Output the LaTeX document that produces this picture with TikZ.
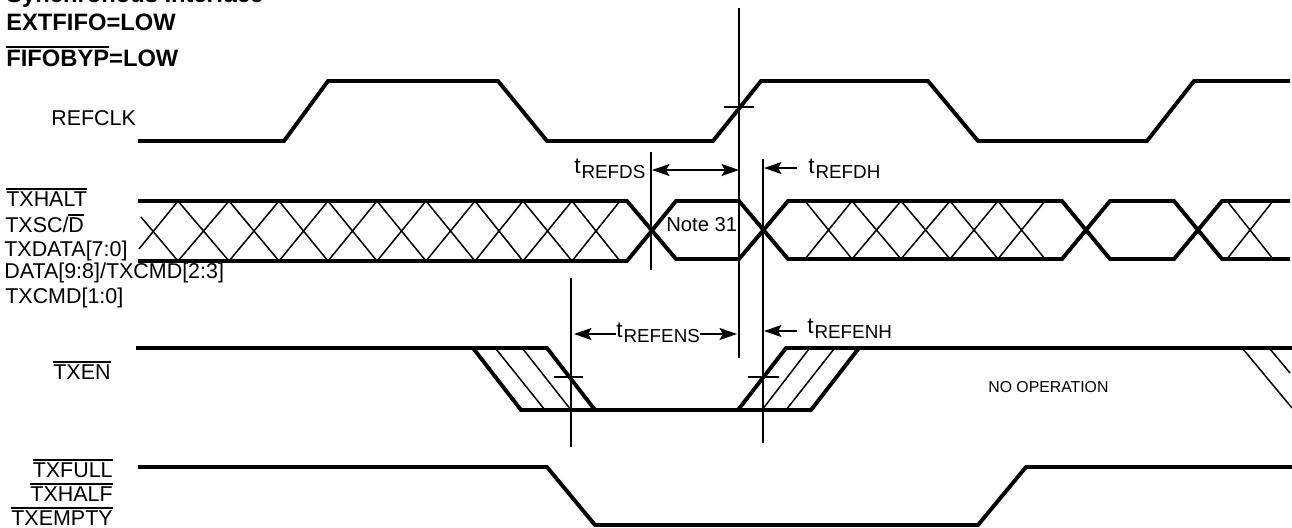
\documentclass[tikz,border=0pt]{standalone}
\usepackage{fontspec}
\setmainfont{Liberation Sans}
\usetikzlibrary{arrows.meta}
\newcommand{\ovl}[1]{\leavevmode\vbox{\hrule height 0.28mm \kern 0.32mm \hbox{#1}}}
\newcommand{\tsub}[1]{{\fontsize{12.8}{14}\selectfont t}\kern 0.2mm\raisebox{-1mm}{\fontsize{10.7}{12}\selectfont #1}}
\begin{document}
\begin{tikzpicture}[x=0.2mm,y=-0.2mm,
  tip/.tip={Stealth[length=3.5mm,width=2.4mm,inset=0.7mm]},
  wave/.style={line width=0.78mm,line join=miter},
  hatch/.style={line width=0.3mm},
  marker/.style={line width=0.4mm},
  tarrow/.style={line width=0.4mm,-tip},
  sig/.style={anchor=base west,inner sep=0pt,font=\fontsize{12.2}{14}\selectfont},
  sigr/.style={sig,anchor=base east},
  head/.style={anchor=base west,inner sep=0pt,font=\fontsize{13.5}{16}\selectfont\bfseries}]
\useasboundingbox (0,0) rectangle (1292,527);
% headings
\node[head] (title) at (6,2) {Synchronous Interface};
\node[head] (ext) at (6,30) {EXTFIFO=LOW};
\node[head] (byp) at (6,66) {\ovl{FIFOBYP}=LOW};
% signal names
\node[sig] (refclk) at (51,125) {REFCLK};
\node[sig] (txhalt) at (6,206) {\ovl{TXHALT}};
\node[sig] (txsc) at (5,232) {TXSC/\ovl{D}};
\node[sig] (txdata) at (4,256) {TXDATA[7:0]};
\node[sig] (data) at (4,278) {DATA[9:8]/TXCMD[2:3]};
\node[sig] (txcmd) at (5,303) {TXCMD[1:0]};
\node[sig] (txen) at (53,379) {\ovl{TXEN}};
\node[sigr] (txfull) at (113,477) {\ovl{TXFULL}};
\node[sigr] (txhalf) at (113,501) {\ovl{TXHALF}};
\node[sigr] (txempty) at (113,525) {\ovl{TXEMPTY}};
% REFCLK
\draw[wave] (138,141) -- (284,141) -- (328,81) -- (498,81) -- (547,141) -- (713,141)
  -- (761,81) -- (928,81) -- (978,141) -- (1147,141) -- (1194,81) -- (1290,81);
% data bus
\draw[wave] (138,201) -- (627,201) -- (676,259) -- (739,259) -- (788,201) -- (1062,201)
  -- (1110,259) -- (1174,259) -- (1222,201) -- (1290,201);
\draw[wave] (138,261) -- (627,261) -- (676,201) -- (739,201) -- (788,259) -- (1062,259)
  -- (1110,201) -- (1174,201) -- (1222,259) -- (1290,259);
\draw[hatch] (141,217) -- (178,261) (139,249) -- (178,201);
\foreach \a/\b in {178/229,229/279,279/328,328/377,377/426,426/475,475/523,523/572,572/620}
  \draw[hatch] (\a,201) -- (\b,261) (\a,261) -- (\b,201);
\foreach \a/\b in {805/852,852/901,901/950,950/998,998/1045,1227/1273}
  \draw[hatch] (\a,201) -- (\b,259) (\a,259) -- (\b,201);
\node[sig,font=\fontsize{11.5}{14}\selectfont] (note) at (666,231) {Note 31};
% TXEN
\draw[wave] (136,348) -- (547,348) -- (595,410);
\draw[wave] (473,348) -- (521,410) -- (811,410) -- (859,348);
\draw[wave] (738,410) -- (786,348) -- (1292,348);
\foreach \a/\b in {496/545,523/571}
  \draw[hatch] (\a,349) -- (\b,410);
\foreach \a/\b in {762/809,786/834}
  \draw[hatch] (\a,410) -- (\b,349);
\draw[hatch] (1243,349) -- (1292,408) (1270,349) -- (1290,373);
\node[sig,font=\fontsize{9}{11}\selectfont] (noop) at (988,392) {NO OPERATION};
% TXFULL
\draw[wave] (138,467) -- (547,467) -- (595,525) -- (978,525) -- (1026,467) -- (1292,467);
% timing markers
\coordinate (ds) at (651,152);
\coordinate (ds end) at (651,270);
\coordinate (clk) at (739,8);
\coordinate (clk end) at (739,358);
\coordinate (dh) at (763,159);
\coordinate (dh end) at (763,443);
\coordinate (ens) at (571,278);
\coordinate (ens end) at (571,447);
\foreach \a/\b in {ds/ds end,clk/clk end,dh/dh end,ens/ens end}
  \draw[marker] (\a) -- (\b);
\draw[marker] (724,107) -- (754,107);
\draw[marker] (554,377) -- (583,377);
\draw[marker] (748,377) -- (779,377);
% timing labels
\node[sig] (trefds) at (574,173) {\tsub{REFDS}};
\node[sig] (trefdh) at (808,173) {\tsub{REFDH}};
\node[sig] (trefens) at (616,337) {\tsub{REFENS}};
\node[sig] (trefenh) at (807,333) {\tsub{REFENH}};
\coordinate (ds l) at (652,170);
\coordinate (ds r) at (739,170);
\coordinate (dh r) at (764,168);
\coordinate (dh s) at (797,168);
\coordinate (ens l) at (574,334);
\coordinate (ens r) at (737,334);
\coordinate (enh r) at (764,331);
\coordinate (enh s) at (797,331);
\draw[tarrow,tip-tip] (ds l) -- (ds r);
\draw[tarrow] (dh s) -- (dh r);
\draw[tarrow] (trefens.west |- ens l) -- (ens l);
\draw[tarrow] (trefens.east |- ens r) -- (ens r);
\draw[tarrow] (enh s) -- (enh r);
\end{tikzpicture}
\end{document}
